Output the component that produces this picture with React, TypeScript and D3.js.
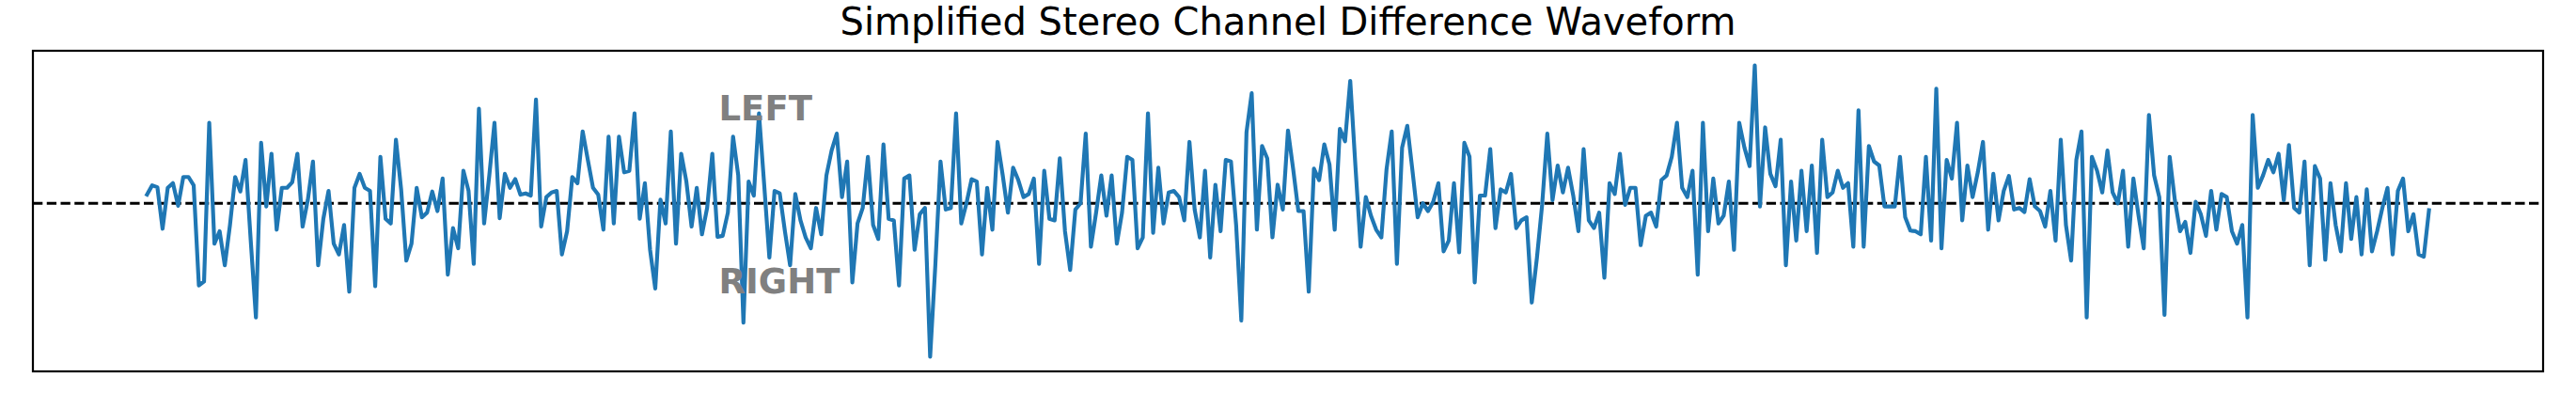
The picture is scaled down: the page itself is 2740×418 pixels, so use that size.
import React from "react";
import * as d3 from "d3";

const TITLE = "Simplified Stereo Channel Difference Waveform";
const LABEL_TOP = "LEFT";
const LABEL_BOTTOM = "RIGHT";

const segA = [0.028,0.058,0.052,-0.082,0.050,0.065,-0.008,0.085,0.085,0.058,-0.265,-0.252,0.260,-0.130,-0.090,-0.200,-0.070,0.085,0.038,0.140,-0.120,-0.368,0.195,-0.010,0.160,-0.085,0.050,0.050,0.068,0.160,-0.075,0.010,0.135,-0.200,-0.050,0.040];
const segB = [-0.130,-0.165,-0.070,-0.285,0.050,0.095,0.050,0.040,-0.267,0.150,-0.050,-0.065,0.205,0.045,-0.185,-0.130,0.050,-0.045,-0.030,0.038,-0.025,0.080,-0.230,-0.080,-0.145,0.105,0.040,-0.195,0.305,-0.065,0.090,0.260,-0.048,0.095,0.050,0.078,0.028];
const segC = [0.032,0.025,0.335,-0.075,0.020,0.035,0.040,-0.165,-0.090,0.085,0.065,0.232,0.140,0.050,0.028,-0.085,0.215,-0.065,0.215,0.100,0.105,0.290,-0.050,0.065,-0.150,-0.275,0.012,-0.065,0.232,-0.130,0.160,0.070,-0.075,0.050,-0.100,-0.015,0.160];
const segD = [-0.108,-0.105,-0.030,0.215,0.090,-0.385,0.070,0.025,0.290,0.060,-0.175,0.040,0.032,-0.090,-0.200,0.030,-0.055,-0.110,-0.145,-0.015,-0.100,0.090,0.170,0.225,0.020,0.135,-0.255,-0.065,-0.015,0.150,-0.070,-0.115,0.190,-0.050,-0.055,-0.265,0.080];
const segE = [0.090,-0.150,-0.035,-0.015,-0.495,-0.200,0.135,-0.020,-0.015,0.290,-0.065,0.000,0.078,0.070,-0.165,0.050,-0.085,0.198,0.090,-0.030,0.115,0.075,0.020,0.030,0.080,-0.195,0.105,-0.050,-0.055,0.145,-0.090,-0.215,-0.020,0.000,0.225,-0.140,-0.030];
const segF = [0.090,-0.040,0.090,-0.130,-0.030,0.150,0.140,-0.145,-0.110,0.290,-0.095,0.115,-0.065,0.035,0.040,0.020,-0.055,0.198,-0.020,-0.110,0.105,-0.175,0.060,-0.090,0.140,0.135,-0.070,-0.378,0.230,0.355,-0.085,0.185,0.145,-0.110,0.060,-0.020,0.235];
const segG = [0.110,-0.025,-0.025,-0.285,0.112,0.075,0.190,0.125,-0.085,0.240,0.200,0.395,0.120,-0.140,0.020,-0.040,-0.085,-0.110,0.110,0.232,-0.195,0.180,0.250,0.105,-0.045,0.000,-0.025,0.005,0.065,-0.155,-0.120,0.065,-0.158,0.195,0.150,-0.255,0.025];
const segH = [0.025,0.175,-0.080,0.045,0.035,0.095,-0.080,-0.055,-0.045,-0.320,-0.175,-0.005,0.225,0.010,0.122,0.035,0.115,0.025,-0.090,0.175,-0.055,-0.080,-0.030,-0.240,0.065,0.030,0.160,-0.005,0.050,0.050,-0.135,-0.040,-0.030,-0.075,0.075,0.090,0.150,0.260];
const segI = [0.050,0.020,0.105,-0.230,0.260,-0.090,0.080,-0.065,-0.040,0.070,-0.150,0.260,0.180,0.120,0.445,-0.010,0.245,0.095,0.055,0.205,-0.200,0.070,-0.120,0.105,-0.090,0.122,-0.160,0.205,0.020,0.035,0.105,0.050,0.065,-0.140,0.300,-0.140,0.185];
const segJ = [0.135,0.122,-0.010,-0.010,-0.010,0.150,-0.045,-0.088,-0.090,-0.100,0.150,-0.120,0.370,-0.145,0.140,0.080,0.260,-0.055,0.122,0.020,0.100,0.198,-0.085,0.095,-0.055,0.040,0.088,-0.020,-0.015,-0.028,0.078,-0.010,-0.025,-0.075,0.040,-0.120,0.205];
const segK = [-0.070,-0.185,0.140,0.232,-0.368,0.150,0.105,0.035,0.170,0.035,0.000,0.105,-0.140,0.080,-0.040,-0.145,0.285,0.090,0.020,-0.360,0.150,0.010,-0.090,-0.060,-0.160,0.005,-0.035,-0.105,0.040,-0.085,0.030,0.020,-0.090,-0.130,-0.070,-0.368,0.285];
const segL = [0.050,0.090,0.140,0.100,0.160,0.010,0.188,-0.015,-0.030,0.135,-0.200,0.120,0.080,-0.182,0.065,-0.070,-0.155,0.065,-0.115,0.020,-0.165,0.045,-0.155,-0.090,-0.015,0.050,-0.165,0.040,0.080,-0.090,-0.035,-0.165,-0.172,-0.022];

const difference: number[] = [
  ...segA, ...segB, ...segC, ...segD, ...segE, ...segF,
  ...segG, ...segH, ...segI, ...segJ, ...segK, ...segL,
];

const W = 2740;
const H = 418;
const M = { left: 35, right: 2705, top: 54, bottom: 395 };

export default function App() {
  const n = difference.length;
  const xPad = 0.05 * (n - 1);
  const x = d3.scaleLinear().domain([-xPad, n - 1 + xPad]).range([M.left, M.right]);
  const [lo, hi] = d3.extent(difference) as [number, number];
  const yPad = 0.05 * (hi - lo);
  const y = d3.scaleLinear().domain([lo - yPad, hi + yPad]).range([M.bottom, M.top]);
  const line = d3.line<number>().x((_, i) => x(i)).y((d) => y(d));
  const labelX = x(n / 4);

  return (
    <svg
      width={W}
      height={H}
      style={{ position: "absolute", left: 0, top: 0, background: "#fff" }}
      fontFamily="DejaVu Sans, sans-serif"
    >
      <rect x={0} y={0} width={W} height={H} fill="#fff" />
      <line
        x1={M.left}
        x2={M.right}
        y1={y(0)}
        y2={y(0)}
        stroke="#000"
        strokeWidth={2.78}
        strokeDasharray="10.3 4.45"
      />
      <path d={line(difference) || ""} fill="none" stroke="#1f77b4" strokeWidth={4.17} strokeLinejoin="round" strokeLinecap="square" />
      <text x={labelX} y={y(0.268)} fontSize={37} fontWeight="bold" fill="#808080">{LABEL_TOP}</text>
      <text x={labelX} y={y(-0.29)} fontSize={37} fontWeight="bold" fill="#808080">{LABEL_BOTTOM}</text>
      <rect
        x={M.left}
        y={M.top}
        width={M.right - M.left}
        height={M.bottom - M.top}
        fill="none"
        stroke="#000"
        strokeWidth={2.2}
      />
      <text x={(M.left + M.right) / 2} y={37} textAnchor="middle" fontSize={40} fill="#000">{TITLE}</text>
    </svg>
  );
}
